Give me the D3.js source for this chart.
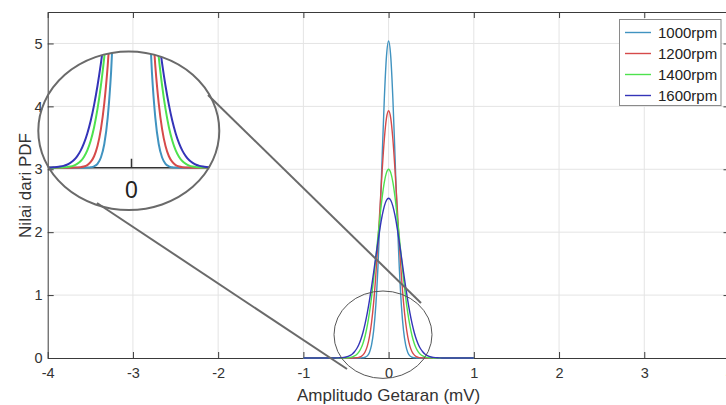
<!DOCTYPE html>
<html>
<head>
<meta charset="utf-8">
<script src="https://cdn.jsdelivr.net/npm/d3@7"></script>
<style>
	body {margin: 0; background: #fff;}
	svg {display: block; font-family: 'Liberation Sans', Arial, sans-serif;}
</style>
</head>
<body>
<svg id="chart" width="726" height="405"></svg>
<script>
'use strict';

// amplitude samples (mV)
var amp = [-1, -0.9, -0.8,
	-0.75, -0.725, -0.7, -0.675, -0.65, -0.625, -0.6, -0.575, -0.55, -0.525, -0.5, -0.475, -0.45, -0.425, -0.4,
	-0.375, -0.35, -0.325, -0.3, -0.275, -0.25, -0.225, -0.2, -0.175, -0.15, -0.125, -0.1, -0.075, -0.05, -0.025,
	0,
	0.025, 0.05, 0.075, 0.1, 0.125, 0.15, 0.175, 0.2, 0.225, 0.25, 0.275, 0.3, 0.325, 0.35, 0.375,
	0.4, 0.425, 0.45, 0.475, 0.5, 0.525, 0.55, 0.575, 0.6, 0.625, 0.65, 0.675, 0.7, 0.725, 0.75,
	0.8, 0.9, 1];

var pdf1000 = [0,0,0,0,0,0,0,0,0,0,0,0,0,0,0,0,0,0,0,0,
	0.001,0.004,0.012,0.034,0.089,0.207,0.438,0.837,1.449,2.27,3.218,4.129,4.795,
	5.04,
	4.795,4.129,3.218,2.27,1.449,0.837,0.438,0.207,0.089,0.034,0.012,0.004,0.001,
	0,0,0,0,0,0,0,0,0,0,0,0,0,0,0,0,0,0,0,0];

var pdf1200 = [0,0,0,0,0,0,0,0,0,0,0,0,0,0,0,0,
	0.001,0.002,0.004,0.01,0.023,0.05,0.1,0.189,0.337,0.564,0.889,1.319,1.841,2.419,2.991,3.481,3.812,
	3.93,
	3.812,3.481,2.991,2.419,1.841,1.319,0.889,0.564,0.337,0.189,0.1,0.05,0.023,0.01,0.004,0.002,0.001,
	0,0,0,0,0,0,0,0,0,0,0,0,0,0,0,0];

var pdf1400 = [0,0,0,0,0,0,0,0,0,0,0,
	0.001,0.001,0.003,0.005,0.01,0.018,0.033,0.056,0.094,0.152,0.236,0.354,0.513,0.717,0.968,1.262,1.588,1.929,2.261,2.559,2.795,2.947,
	3,
	2.947,2.795,2.559,2.261,1.929,1.588,1.262,0.968,0.717,0.513,0.354,0.236,0.152,0.094,0.056,0.033,0.018,0.01,0.005,0.003,0.001,0.001,
	0,0,0,0,0,0,0,0,0,0,0];

var pdf1600 = [0,0,0,0,0,0,0,0,
	0.001,0.002,0.003,0.006,0.01,0.016,0.026,0.042,0.065,0.099,0.147,0.212,0.299,0.41,0.549,0.716,0.911,1.13,1.366,1.61,1.851,2.074,2.266,2.415,2.508,
	2.54,
	2.508,2.415,2.266,2.074,1.851,1.61,1.366,1.13,0.911,0.716,0.549,0.41,0.299,0.212,0.147,0.099,0.065,0.042,0.026,0.016,0.01,0.006,0.003,0.002,0.001,
	0,0,0,0,0,0,0,0];

var seriesNames = ['1000rpm', '1200rpm', '1400rpm', '1600rpm'];
var seriesValues = [pdf1000, pdf1200, pdf1400, pdf1600];
var seriesColors = ['#4093c0', '#d64a4a', '#4ee24e', '#3434b8'];

var xTicks = [-4, -3, -2, -1, 0, 1, 2, 3, 4];
var yTicks = [0, 1, 2, 3, 4, 5];

(function() {
	var svg = d3.select('#chart');
	var axisColor = '#3a3a3a';
	var gridColor = '#e4e4e4';
	var plain = function(d) {return String(d);};

	var x = d3.scaleLinear().domain([-4, 4]).range([47.7, 729.5]);
	var y = d3.scaleLinear().domain([0, 5.5]).range([358, 12]);

	var series = seriesNames.map(function(name, i) {
		return {name: name, color: seriesColors[i], points: amp.map(function(a, j) {
			return [a, seriesValues[i][j]];
		})};
	});

	// grid
	var grid = svg.append('g').attr('stroke', gridColor).attr('stroke-width', 1);
	grid.selectAll('line.gx').data(xTicks.slice(1, -1)).enter().append('line')
		.attr('class', 'gx')
		.attr('x1', function(d) {return x(d);}).attr('x2', function(d) {return x(d);})
		.attr('y1', y(0)).attr('y2', y(5.5));
	grid.selectAll('line.gy').data(yTicks.slice(1)).enter().append('line')
		.attr('class', 'gy')
		.attr('x1', x(-4)).attr('x2', x(4))
		.attr('y1', function(d) {return y(d);}).attr('y2', function(d) {return y(d);});

	// axes (box with inward ticks)
	var bottom = svg.append('g').attr('transform', 'translate(0,' + y(0) + ')')
		.call(d3.axisBottom(x).tickValues(xTicks).tickFormat(plain).tickSizeInner(-6).tickSizeOuter(0).tickPadding(10));
	var top = svg.append('g').attr('transform', 'translate(0,' + y(5.5) + ')')
		.call(d3.axisTop(x).tickValues(xTicks).tickSizeInner(-6).tickSizeOuter(0).tickFormat(''));
	var left = svg.append('g').attr('transform', 'translate(' + x(-4) + ',0)')
		.call(d3.axisLeft(y).tickValues(yTicks).tickFormat(plain).tickSizeInner(-6).tickSizeOuter(0).tickPadding(5));
	var right = svg.append('g').attr('transform', 'translate(' + x(4) + ',0)')
		.call(d3.axisRight(y).tickValues(yTicks).tickSizeInner(-6).tickSizeOuter(0).tickFormat(''));

	[bottom, top, left, right].forEach(function(g) {
		g.selectAll('path, line').attr('stroke', axisColor).attr('stroke-width', 1);
		g.selectAll('text').attr('fill', '#333').style('font-size', '14.5px')
			.style('font-family', "'Liberation Sans', Arial, sans-serif");
	});

	// curves
	var line = d3.line()
		.x(function(d) {return x(d[0]);})
		.y(function(d) {return y(d[1]);})
		.curve(d3.curveMonotoneX);

	svg.append('g').selectAll('path').data(series).enter().append('path')
		.attr('d', function(d) {return line(d.points);})
		.attr('fill', 'none')
		.attr('stroke', function(d) {return d.color;})
		.attr('stroke-width', 1.4);

	// axis labels
	svg.append('text')
		.attr('x', x(0)).attr('y', 401)
		.attr('text-anchor', 'middle')
		.attr('fill', '#333')
		.style('font-size', '17px')
		.text('Amplitudo Getaran (mV)');
	svg.append('text')
		.attr('transform', 'translate(31,185.5) rotate(-90)')
		.attr('text-anchor', 'middle')
		.attr('fill', '#333')
		.style('font-size', '17px')
		.text('Nilai dari PDF');

	// legend
	var legend = svg.append('g');
	legend.append('rect')
		.attr('x', 619.5).attr('y', 19.5).attr('width', 101.5).attr('height', 86)
		.attr('fill', '#fff').attr('stroke', '#8a8a8a').attr('stroke-width', 1);
	var rows = legend.selectAll('g.row').data(series).enter().append('g')
		.attr('class', 'row')
		.attr('transform', function(d, i) {return 'translate(0,' + (32.5 + i * 21) + ')';});
	rows.append('line')
		.attr('x1', 625).attr('x2', 651)
		.attr('stroke', function(d) {return d.color;})
		.attr('stroke-width', 1.4);
	rows.append('text')
		.attr('x', 658).attr('dy', '0.36em')
		.attr('fill', '#222')
		.style('font-size', '15px')
		.text(function(d) {return d.name;});

	// zoom callout
	var small = {cx: 383, cy: 334.7, rx: 49, ry: 43.7};
	var big = {cx: 128.8, cy: 130.8, rx: 90.5, ry: 79.2};

	svg.append('ellipse')
		.attr('cx', small.cx).attr('cy', small.cy).attr('rx', small.rx).attr('ry', small.ry)
		.attr('fill', 'none').attr('stroke', '#555').attr('stroke-width', 1);

	var link = svg.append('g').attr('stroke', '#6a6a6a').attr('stroke-width', 2);
	link.append('line').attr('x1', 208).attr('y1', 95).attr('x2', 421).attr('y2', 303);
	link.append('line').attr('x1', 97).attr('y1', 203).attr('x2', 347).attr('y2', 369);

	svg.append('clipPath').attr('id', 'lens')
		.append('ellipse')
		.attr('cx', big.cx).attr('cy', big.cy).attr('rx', big.rx).attr('ry', big.ry);

	var ix = d3.scaleLinear().domain([0, 1]).range([131.5, 267.5]);
	var iy = d3.scaleLinear().domain([0, 1]).range([167.7, 53.2]);
	var inset = svg.append('g').attr('clip-path', 'url(#lens)');

	inset.append('line')
		.attr('x1', big.cx - big.rx).attr('x2', big.cx + big.rx)
		.attr('y1', iy(0)).attr('y2', iy(0))
		.attr('stroke', '#333').attr('stroke-width', 1.5);
	inset.append('line')
		.attr('x1', ix(0)).attr('x2', ix(0))
		.attr('y1', iy(0)).attr('y2', iy(0) - 9)
		.attr('stroke', '#333').attr('stroke-width', 1.5);

	var insetLine = d3.line()
		.x(function(d) {return ix(d[0]);})
		.y(function(d) {return iy(d[1]);})
		.curve(d3.curveMonotoneX);

	inset.selectAll('path.curve').data(series).enter().append('path')
		.attr('class', 'curve')
		.attr('d', function(d) {return insetLine(d.points);})
		.attr('fill', 'none')
		.attr('stroke', function(d) {return d.color;})
		.attr('stroke-width', 2);

	inset.append('text')
		.attr('x', ix(0)).attr('y', 198)
		.attr('text-anchor', 'middle')
		.attr('fill', '#222')
		.style('font-size', '23px')
		.text('0');

	svg.append('ellipse')
		.attr('cx', big.cx).attr('cy', big.cy).attr('rx', big.rx).attr('ry', big.ry)
		.attr('fill', 'none').attr('stroke', '#6a6a6a').attr('stroke-width', 2);
})();
</script>
</body>
</html>
